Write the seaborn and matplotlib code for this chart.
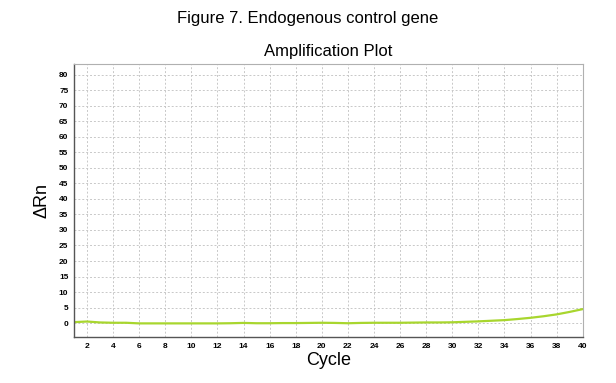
import matplotlib
matplotlib.use("Agg")
import matplotlib.pyplot as plt
import seaborn as sns
import pandas as pd
import numpy as np

cycles = list(range(1, 41))
delta_rn = [0.3, 0.5, 0.2, 0.1, 0.1, -0.1, -0.1, -0.1, -0.1, -0.1,
            -0.1, -0.1, -0.05, 0.05, -0.05, -0.05, 0.0, 0.0, 0.05, 0.1,
            0.05, -0.05, 0.05, 0.1, 0.1, 0.1, 0.15, 0.2, 0.2, 0.25,
            0.4, 0.55, 0.75, 0.95, 1.3, 1.7, 2.2, 2.8, 3.6, 4.5]
x_ticks = list(range(2, 41, 2))
y_ticks = list(range(0, 81, 5))

df = pd.DataFrame({"Cycle": cycles, "dRn": delta_rn})

sns.set_theme(style="white")
plt.rcParams['font.family'] = ['Liberation Sans', 'DejaVu Sans']
plt.rcParams['text.color'] = 'black'
plt.rcParams['axes.labelcolor'] = 'black'
plt.rcParams['xtick.color'] = 'black'
plt.rcParams['ytick.color'] = 'black'

fig = plt.figure(figsize=(6.16, 3.83), dpi=100)
ax = fig.add_axes([0.120, 0.120, 0.826, 0.713])
sns.lineplot(data=df, x="Cycle", y="dRn", ax=ax, color="#a8d62e", linewidth=1.6)

ax.set_xlim(1, 40)
ax.set_ylim(-4.5, 83.5)
ax.set_xticks(x_ticks)
ax.set_yticks(y_ticks)
ax.tick_params(axis='both', labelsize=6, length=2, width=0.6, pad=2, colors='black')
for lab in ax.get_xticklabels() + ax.get_yticklabels():
    lab.set_fontweight('bold')
ax.grid(True, linestyle=(0, (2, 2)), color="#c8c8c8", linewidth=0.7)
for side in ["top", "right"]:
    ax.spines[side].set_color("#b0b0b0")
    ax.spines[side].set_linewidth(0.8)
for side in ["left", "bottom"]:
    ax.spines[side].set_color("#555555")
    ax.spines[side].set_linewidth(1.0)

ax.set_xlabel("Cycle", fontsize=13, labelpad=2, color='black')
ax.set_ylabel("ΔRn", fontsize=13, labelpad=6, color='black')
ax.set_title("Amplification Plot", fontsize=12, pad=6, color='black')
fig.text(0.5, 0.953, "Figure 7. Endogenous control gene", ha="center", va="center",
         fontsize=12, color='black')

fig.savefig("out.png", dpi=100)
